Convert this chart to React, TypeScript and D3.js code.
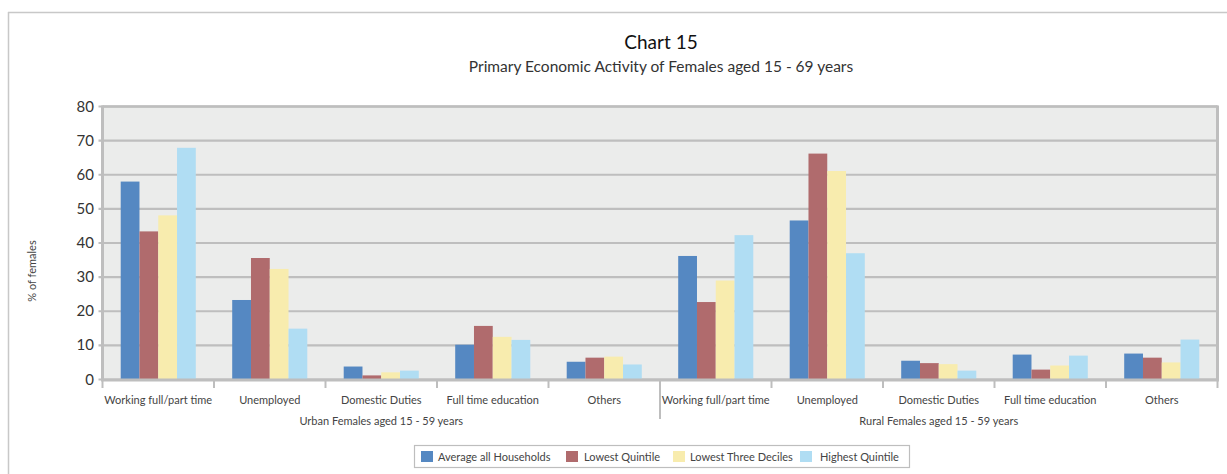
import React from "react";
import * as d3 from "d3";

const regions = ["Urban Females aged 15 - 59 years", "Rural Females aged 15 - 59 years"];
const activities = ["Working full/part time", "Unemployed", "Domestic Duties", "Full time education", "Others"];
const seriesNames = ["Average all Households", "Lowest Quintile", "Lowest Three Deciles", "Highest Quintile"];
const seriesColors = ["#5588C2", "#B06B6D", "#F8ECAE", "#B0DDF3"];

// values per series, 10 categories (5 urban, then 5 rural)
const averageAll = [58.0, 23.3, 3.8, 10.2, 5.2, 36.2, 46.6, 5.5, 7.3, 7.6];
const lowestQuintile = [43.4, 35.6, 1.2, 15.7, 6.4, 22.7, 66.2, 4.8, 2.9, 6.4];
const lowestThreeDeciles = [48.1, 32.4, 2.1, 12.5, 6.7, 29.0, 61.1, 4.5, 4.1, 5.0];
const highestQuintile = [67.9, 14.9, 2.6, 11.6, 4.4, 42.3, 37.0, 2.6, 7.0, 11.7];
const seriesValues = [averageAll, lowestQuintile, lowestThreeDeciles, highestQuintile];

const yTicks = [0, 10, 20, 30, 40, 50, 60, 70, 80];

const W = 1227;
const H = 474;
const FONT = "Lato, 'Open Sans', sans-serif";

export default function App() {
  const left = 102.5;
  const right = 1217.5;
  const top = 106.5;
  const bottom = 379.5;

  const categories = regions.flatMap((r, ri) => activities.map((a) => `${ri}|${a}`));
  const x = d3.scaleBand<string>().domain(categories).range([left, right]).paddingInner(0).paddingOuter(0);
  const inner = d3
    .scaleBand<number>()
    .domain(seriesNames.map((_, i) => i))
    .range([0, x.bandwidth()])
    .paddingInner(0)
    .paddingOuter(0.97);
  const y = d3.scaleLinear().domain([0, 80]).range([bottom, top]);

  const boundaries = d3.range(categories.length + 1).map((i) => left + i * x.bandwidth());

  const legendItems = [
    { sx: 421, tx: 438 },
    { sx: 566, tx: 584 },
    { sx: 673, tx: 690 },
    { sx: 800, tx: 820 },
  ];

  return (
    <svg width={W} height={H} style={{ position: "absolute", left: 0, top: 0 }} fontFamily={FONT}>
      <rect x={0} y={0} width={W} height={H} fill="#ffffff" />
      {/* outer frame */}
      <line x1={8} x2={W} y1={12.5} y2={12.5} stroke="#C8C8C8" strokeWidth={1.5} />
      <line x1={8.5} x2={8.5} y1={12} y2={H} stroke="#C8C8C8" strokeWidth={1.5} />

      {/* titles */}
      <text x={661} y={49} textAnchor="middle" fontSize={19} fill="#111">Chart 15</text>
      <text x={661} y={72} textAnchor="middle" fontSize={15.5} fill="#333">
        Primary Economic Activity of Females aged 15 - 69 years
      </text>

      {/* plot background */}
      <rect x={left} y={top} width={right - left} height={bottom - top} fill="#EBECEB" />

      {/* gridlines */}
      {yTicks.map((t) => (
        <line key={t} x1={left - 4} x2={right} y1={y(t)} y2={y(t)} stroke="#BEBEBE" strokeWidth={2.2} />
      ))}
      {/* plot borders */}
      <line x1={left} x2={left} y1={top - 1} y2={bottom + 1} stroke="#BEBEBE" strokeWidth={3} />
      <line x1={right} x2={right} y1={top - 1} y2={bottom + 1} stroke="#BEBEBE" strokeWidth={3} />
      <line x1={left} x2={right} y1={top} y2={top} stroke="#BEBEBE" strokeWidth={2.5} />

      {/* y tick labels */}
      {yTicks.map((t) => (
        <text key={t} x={94} y={y(t) + 5} textAnchor="end" fontSize={15} fill="#333">
          {t}
        </text>
      ))}
      <text
        transform={`translate(36,271) rotate(-90)`}
        textAnchor="middle"
        fontSize={11}
        fill="#444"
      >
        % of females
      </text>

      {/* bars */}
      {seriesValues.map((vals, si) =>
        vals.map((v, ci) => (
          <rect
            key={`${si}-${ci}`}
            x={(x(categories[ci]) ?? 0) + (inner(si) ?? 0)}
            y={y(v)}
            width={inner.bandwidth()}
            height={bottom + 1 - y(v)}
            fill={seriesColors[si]}
          />
        ))
      )}

      {/* x axis line */}
      <line x1={left - 1.5} x2={right + 1.5} y1={bottom + 0.5} y2={bottom + 0.5} stroke="#BEBEBE" strokeWidth={3} />
      {boundaries.map((bx, i) => (
        <line
          key={i}
          x1={bx}
          x2={bx}
          y1={bottom}
          y2={i === 5 ? 419 : 388}
          stroke="#BEBEBE"
          strokeWidth={2}
        />
      ))}

      {/* category labels */}
      {categories.map((c) => (
        <text
          key={c}
          x={(x(c) ?? 0) + x.bandwidth() / 2}
          y={404}
          textAnchor="middle"
          fontSize={11}
          fill="#444"
        >
          {c.split("|")[1]}
        </text>
      ))}
      {regions.map((r, ri) => (
        <text
          key={r}
          x={(boundaries[ri * 5] + boundaries[ri * 5 + 5]) / 2}
          y={425}
          textAnchor="middle"
          fontSize={11}
          fill="#444"
        >
          {r}
        </text>
      ))}

      {/* legend */}
      <rect x={414.5} y={445.5} width={495} height={22} fill="#fff" stroke="#BEBEBE" strokeWidth={1.2} />
      {seriesNames.map((n, i) => (
        <g key={n}>
          <rect x={legendItems[i].sx} y={451} width={12} height={11} fill={seriesColors[i]} />
          <text x={legendItems[i].tx} y={461} fontSize={11} fill="#444">
            {n}
          </text>
        </g>
      ))}
    </svg>
  );
}
